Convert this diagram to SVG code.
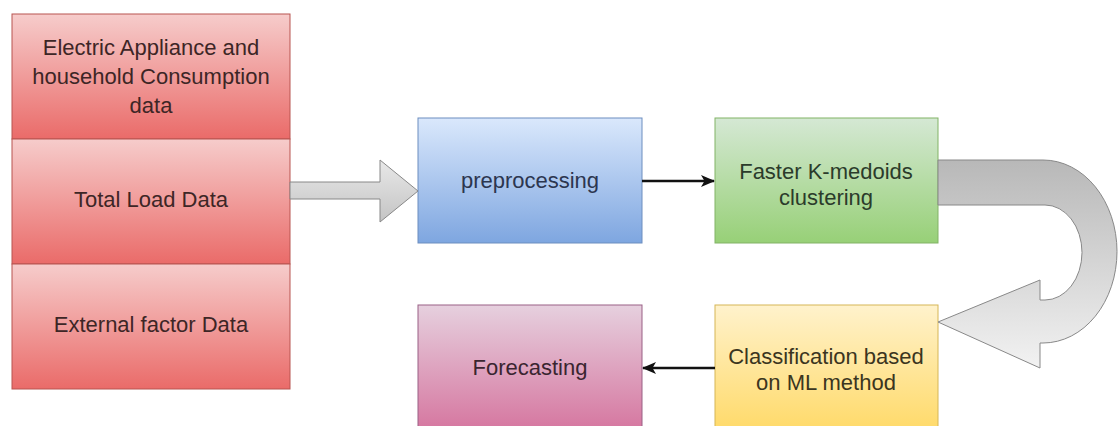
<svg xmlns="http://www.w3.org/2000/svg" width="1118" height="426" viewBox="0 0 1118 426">
<style>
  .lbl { font-family: "Liberation Sans", Arial, sans-serif; font-size: 22px; fill: #333333; text-anchor: middle; }
  .t-red { fill: #3d2626; }
  .t-blue { fill: #2c3650; }
  .t-green { fill: #2b3b2b; }
  .t-yellow { fill: #3b3520; }
  .t-pink { fill: #3a2530; }
  .conn { stroke: #111111; stroke-width: 2.5; fill: none; }
</style>
<defs>
  <linearGradient id="gRed" x1="0" y1="0" x2="0" y2="1">
    <stop offset="0" stop-color="#f6cccb"/>
    <stop offset="1" stop-color="#ea6b69"/>
  </linearGradient>
  <linearGradient id="gBlue" x1="0" y1="0" x2="0" y2="1">
    <stop offset="0" stop-color="#dae8fc"/>
    <stop offset="1" stop-color="#7ea6e0"/>
  </linearGradient>
  <linearGradient id="gGreen" x1="0" y1="0" x2="0" y2="1">
    <stop offset="0" stop-color="#d5e8d4"/>
    <stop offset="1" stop-color="#97d077"/>
  </linearGradient>
  <linearGradient id="gYellow" x1="0" y1="0" x2="0" y2="1">
    <stop offset="0" stop-color="#fff2cc"/>
    <stop offset="1" stop-color="#ffd966"/>
  </linearGradient>
  <linearGradient id="gPink" x1="0" y1="0" x2="0" y2="1">
    <stop offset="0" stop-color="#e6d0de"/>
    <stop offset="1" stop-color="#d5739d"/>
  </linearGradient>
  <linearGradient id="gGray" x1="0" y1="0" x2="0" y2="1">
    <stop offset="0" stop-color="#e8e8e8"/>
    <stop offset="1" stop-color="#c4c4c4"/>
  </linearGradient>
  <linearGradient id="gUturn" x1="0" y1="0" x2="0" y2="1">
    <stop offset="0" stop-color="#b8b8b8"/>
    <stop offset="1" stop-color="#f2f2f2"/>
  </linearGradient>
  <marker id="arr" viewBox="0 0 14 12" refX="13" refY="6" markerWidth="14" markerHeight="12" markerUnits="userSpaceOnUse" orient="auto">
    <path d="M0,0 L14,6 L0,12 L3.5,6 Z" fill="#111111"/>
  </marker>
</defs>

<g id="data-stack">
  <g id="node-appliance">
    <rect x="12" y="14" width="278" height="125" fill="url(#gRed)" stroke="#b85450" stroke-width="1"/>
    <text class="lbl t-red" x="151" y="55">Electric Appliance and</text>
    <text class="lbl t-red" x="151" y="84">household Consumption</text>
    <text class="lbl t-red" x="151" y="113">data</text>
  </g>
  <g id="node-total-load">
    <rect x="12" y="139" width="278" height="125" fill="url(#gRed)" stroke="#b85450" stroke-width="1"/>
    <text class="lbl t-red" x="151" y="207">Total Load Data</text>
  </g>
  <g id="node-external">
    <rect x="12" y="264" width="278" height="125" fill="url(#gRed)" stroke="#b85450" stroke-width="1"/>
    <text class="lbl t-red" x="151" y="332">External factor Data</text>
  </g>
</g>

<g id="node-preprocessing">
  <rect x="418" y="118" width="224" height="125" fill="url(#gBlue)" stroke="#6c8ebf" stroke-width="1"/>
  <text class="lbl t-blue" x="530" y="188">preprocessing</text>
</g>

<g id="node-clustering">
  <rect x="715" y="118" width="223" height="125" fill="url(#gGreen)" stroke="#82b366" stroke-width="1"/>
  <text class="lbl t-green" x="826" y="179">Faster K-medoids</text>
  <text class="lbl t-green" x="826" y="205">clustering</text>
</g>

<g id="node-classification">
  <rect x="715" y="305" width="223" height="130" fill="url(#gYellow)" stroke="#d6b656" stroke-width="1"/>
  <text class="lbl t-yellow" x="826" y="364">Classification based</text>
  <text class="lbl t-yellow" x="826" y="390">on ML method</text>
</g>

<g id="node-forecasting">
  <rect x="418" y="305" width="224" height="130" fill="url(#gPink)" stroke="#996185" stroke-width="1"/>
  <text class="lbl t-pink" x="530" y="375">Forecasting</text>
</g>

<g id="connectors">
  <path id="block-arrow" d="M290,182 L380,182 L380,160 L418,191 L380,222 L380,199 L290,199 Z" fill="url(#gGray)" stroke="#888888" stroke-width="1"/>
  <path id="uturn-arrow" d="M938,160 L1043,160 A74,91.5 0 0 1 1043,343 L1040,343 L1040,368 L938,322 L1040,280 L1040,300 L1045,300 A37,47.5 0 0 0 1045,205 L938,205 Z" fill="url(#gUturn)" stroke="#888888" stroke-width="1"/>
  <line class="conn" x1="642" y1="181" x2="714" y2="181" marker-end="url(#arr)"/>
  <line class="conn" x1="715" y1="368" x2="643" y2="368" marker-end="url(#arr)"/>
</g>
</svg>
